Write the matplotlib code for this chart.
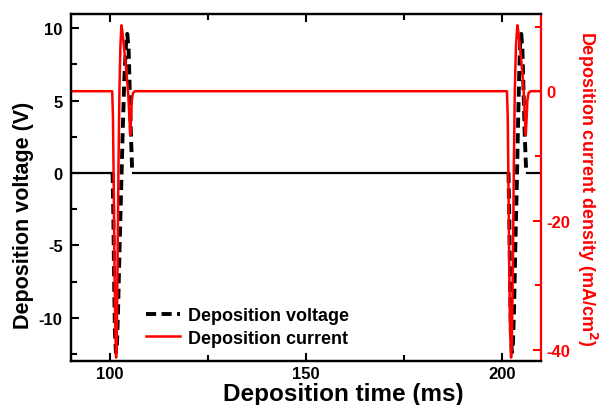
import numpy as np
import matplotlib.pyplot as plt
from matplotlib.ticker import MultipleLocator

plt.rcParams['font.family'] = ['Liberation Sans', 'DejaVu Sans']
plt.rcParams['font.weight'] = 'bold'
plt.rcParams['axes.labelweight'] = 'bold'
plt.rcParams['mathtext.default'] = 'bf'
plt.rcParams['axes.unicode_minus'] = False

# Deposition voltage (V): flat baseline pieces and the two pulses
base_t = [[90, 100.6], [105.7, 201.6], [206.2, 210]]
pulse1_t = [100.6, 100.8, 101.0, 101.2, 101.45, 101.7, 102.0, 102.4, 102.8, 103.2,
            103.6, 104.0, 104.35, 104.7, 105.0, 105.3, 105.55, 105.7]
pulse1_v = [0, -3, -7.5, -11, -12.4, -12, -9.5, -5, -1, 3,
            6.5, 8.8, 9.6, 8.5, 5.5, 2.5, 0.5, 0]
pulse2_t = [201.6, 201.8, 202.0, 202.2, 202.45, 202.7, 203.0, 203.35, 203.7, 204.0,
            204.3, 204.55, 204.85, 205.15, 205.45, 205.75, 206.05, 206.2]
pulse2_v = [0, -3, -7.5, -11, -12.4, -12, -9.5, -5, -1, 3,
            6.5, 8.8, 9.6, 8.5, 5.5, 2.5, 0.5, 0]

# Deposition current density (mA/cm2)
cur_t = [90, 100.5, 100.7, 100.9, 101.1, 101.3, 101.5, 101.65, 101.85, 102.1, 102.35,
         102.6, 102.85, 103.05, 103.4, 103.8, 104.2, 104.6, 104.9, 105.1, 105.3,
         105.5, 105.8, 106.3,
         201.2, 201.4, 201.6, 201.8, 202.0, 202.25, 202.45, 202.7, 202.95, 203.2,
         203.5, 203.85, 204.05, 204.4, 204.8, 205.2, 205.5, 205.75, 206.0, 206.2,
         206.4, 206.7, 207.2, 210]
cur_i = [0, 0, -4, -15, -28, -37, -41.2, -39, -28, -12, 0,
         7, 10.2, 9.5, 7.5, 5, 2.5, -0.5, -4, -6.8, -4.5,
         -1.5, -0.3, 0,
         0, -4, -15, -28, -37, -41.2, -39, -28, -12, 0,
         7, 10.2, 9.5, 7.5, 5, 2.5, -0.5, -4, -6.8, -4.5,
         -1.5, -0.3, 0, 0]

fig = plt.figure(figsize=(6.07, 4.06), dpi=100)
ax = fig.add_axes([0.117, 0.108, 0.775, 0.856])
ax2 = ax.twinx()

for seg in base_t:
    ax.plot(seg, [0, 0], color='black', lw=1.6)
lv, = ax.plot(pulse1_t, pulse1_v, color='black', lw=2.8, dashes=(2.6, 1.4))
ax.plot(pulse2_t, pulse2_v, color='black', lw=2.8, dashes=(2.6, 1.4))
lc, = ax2.plot(cur_t, cur_i, color='red', lw=1.8)

ax.set_xlim(90, 210)
ax.set_ylim(-13, 11)
ax2.set_ylim(-41.75, 12)

ax.xaxis.set_major_locator(MultipleLocator(50))
ax.xaxis.set_minor_locator(MultipleLocator(25))
ax.yaxis.set_major_locator(MultipleLocator(5))
ax.yaxis.set_minor_locator(MultipleLocator(2.5))
ax2.yaxis.set_major_locator(MultipleLocator(20))
ax2.yaxis.set_minor_locator(MultipleLocator(10))

ax.tick_params(axis='both', which='both', direction='in', width=1.5,
               labelsize=12, top=True, right=False)
ax.tick_params(axis='y', pad=6)
ax.tick_params(which='major', length=6)
ax.tick_params(which='minor', length=4)
ax2.tick_params(axis='y', which='both', direction='in', width=1.5,
                colors='red', labelsize=12)
ax2.tick_params(which='major', length=6)
ax2.tick_params(which='minor', length=4)

for s in ax.spines.values():
    s.set_linewidth(1.6)
ax.spines['right'].set_visible(False)
for s in ax2.spines.values():
    s.set_linewidth(1.6)
ax2.spines['right'].set_color('red')

ax.set_xlabel('Deposition time (ms)', fontsize=17.5)
ax.xaxis.set_label_coords(0.578, -0.06)
ax.set_ylabel('Deposition voltage (V)', fontsize=15.5)
ax.yaxis.set_label_coords(-0.078, 0.423)
ax2.set_ylabel('Deposition current density (mA/cm$^2$)', fontsize=13,
               color='red', rotation=270, va='center')
ax2.yaxis.set_label_coords(1.098, 0.5)

ax2.legend([lv, lc], ['Deposition voltage', 'Deposition current'],
           loc='lower left', bbox_to_anchor=(0.125, -0.005), frameon=False,
           fontsize=13, handlelength=1.9, labelspacing=0.3, handletextpad=0.4)

fig.savefig('out.png', dpi=100)
plt.close()
